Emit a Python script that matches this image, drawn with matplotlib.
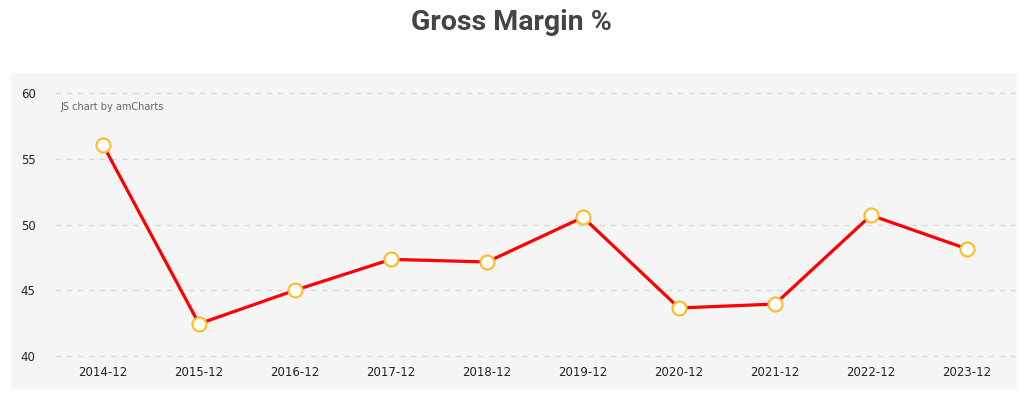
import matplotlib.pyplot as plt
from matplotlib.patches import Rectangle

periods = ['2014-12', '2015-12', '2016-12', '2017-12', '2018-12',
           '2019-12', '2020-12', '2021-12', '2022-12', '2023-12']
gross_margin = [56.05, 42.45, 45.0, 47.35, 47.15, 50.55, 43.65, 43.95, 50.7, 48.15]

plt.rcParams['font.family'] = ['DejaVu Sans']

W, H = 1022, 398
fig = plt.figure(figsize=(W / 100, H / 100), dpi=100)

# grey panel behind the plot
fig.patches.append(Rectangle((11 / W, (H - 389) / H), (1017 - 11) / W, (389 - 73) / H,
                             transform=fig.transFigure, facecolor='#f5f5f5',
                             edgecolor='none', zorder=0))

ax = fig.add_axes([55 / W, (H - 356) / H, (1015 - 55) / W, (356 - 93) / H])
ax.set_zorder(2)
ax.patch.set_alpha(0)

x = range(len(periods))
ax.plot(x, gross_margin, color='#ff0000', lw=2.3, zorder=3, clip_on=False)
ax.plot(x, gross_margin, ls='none', marker='o', ms=10, mfc='white',
        mec='#fbbf2c', mew=1.6, zorder=4, clip_on=False)

ax.set_xlim(-0.5, len(periods) - 0.5)
ax.set_ylim(40, 60)
ax.set_yticks([40, 45, 50, 55, 60])
ax.set_xticks(list(x))
ax.set_xticklabels(periods)
for y in [40, 45, 50, 55, 60]:
    ax.axhline(y, color='#d9d9d9', lw=1, ls=(0, (4, 4)), zorder=1, clip_on=False)

for s in ax.spines.values():
    s.set_visible(False)
ax.tick_params(length=0, labelsize=8.5, colors='#222222')
ax.tick_params(axis='y', pad=14)
ax.tick_params(axis='x', pad=7)

ax.text(60 / W, (H - 107) / H, 'JS chart by amCharts', transform=fig.transFigure,
        fontsize=7, color='#666666', va='center', ha='left')

fig.text(0.5, (H - 23) / H, 'Gross Margin %', ha='center', va='center',
         fontsize=20.5, fontweight='bold', family='Roboto', color='#444444')

fig.savefig('out.png', dpi=100)
